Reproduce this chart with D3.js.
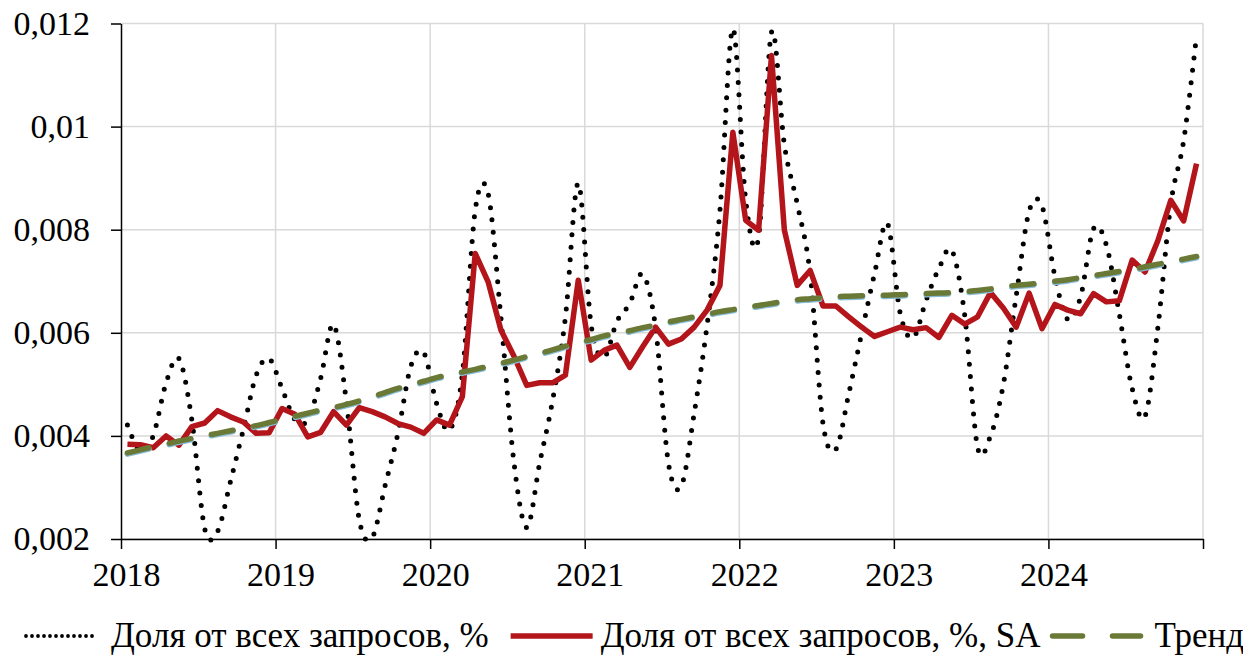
<!DOCTYPE html>
<html>
<head>
<meta charset="utf-8">
<script src="https://cdn.jsdelivr.net/npm/d3@7/dist/d3.min.js"></script>
<style>
  body { margin: 0; background: #fff; }
  svg text { font-family: "Liberation Serif", Tinos, "Times New Roman", Times, "DejaVu Serif", "Noto Serif", serif; fill: #000; }
</style>
</head>
<body>
<svg id="chart" width="1243" height="657"></svg>
<script>
// monthly data Jan 2018 .. Dec 2024
var years = [2018, 2019, 2020, 2021, 2022, 2023, 2024];
var months = [];
years.forEach(function (y) { for (var m = 1; m <= 12; m++) months.push(y + "-" + m); });

var share = [
  0.00421, 0.00370, 0.00400, 0.00503, 0.00550, 0.00431, 0.00220, 0.00215, 0.00312, 0.00413, 0.00518, 0.00550,
  0.00492, 0.00432, 0.00431, 0.00512, 0.00616, 0.00466, 0.00237, 0.00203, 0.00303, 0.00405, 0.00535, 0.00562,
  0.00463, 0.00411, 0.00520, 0.00838, 0.00870, 0.00628, 0.00350, 0.00222, 0.00347, 0.00468, 0.00630, 0.00890,
  0.00615, 0.00553, 0.00622, 0.00657, 0.00714, 0.00610, 0.00347, 0.00303, 0.00444, 0.00615, 0.00838, 0.01190,
  0.00857, 0.00786, 0.01183, 0.00965, 0.00850, 0.00715, 0.00424, 0.00374, 0.00482, 0.00599, 0.00715, 0.00812,
  0.00637, 0.00590, 0.00663, 0.00725, 0.00760, 0.00634, 0.00378, 0.00400, 0.00500, 0.00672, 0.00836, 0.00846,
  0.00710, 0.00626, 0.00670, 0.00802, 0.00770, 0.00637, 0.00492, 0.00438, 0.00611, 0.00850, 0.00973, 0.01177
];
var shareSA = [
  0.00384, 0.00383, 0.00377, 0.00400, 0.00382, 0.00418, 0.00425, 0.00449, 0.00437, 0.00427, 0.00405, 0.00406,
  0.00453, 0.00442, 0.00398, 0.00407, 0.00447, 0.00421, 0.00455, 0.00447, 0.00437, 0.00424, 0.00417, 0.00405,
  0.00431, 0.00421, 0.00476, 0.00754, 0.00699, 0.00605, 0.00555, 0.00498, 0.00503, 0.00503, 0.00518, 0.00702,
  0.00547, 0.00566, 0.00576, 0.00533, 0.00573, 0.00611, 0.00578, 0.00588, 0.00611, 0.00644, 0.00692, 0.00989,
  0.00818, 0.00799, 0.01138, 0.00799, 0.00692, 0.00721, 0.00652, 0.00652, 0.00631, 0.00611, 0.00593, 0.00602,
  0.00611, 0.00606, 0.00610, 0.00591, 0.00634, 0.00617, 0.00631, 0.00678, 0.00648, 0.00611, 0.00677, 0.00608,
  0.00655, 0.00644, 0.00637, 0.00676, 0.00660, 0.00662, 0.00741, 0.00718, 0.00779, 0.00857, 0.00817, 0.00928
];
var trend = [
  0.00367, 0.00373, 0.00379, 0.00384, 0.00390, 0.00395, 0.00400, 0.00405, 0.00410, 0.00415, 0.00420, 0.00426,
  0.00432, 0.00438, 0.00444, 0.00450, 0.00455, 0.00461, 0.00468, 0.00476, 0.00484, 0.00492, 0.00499, 0.00506,
  0.00513, 0.00519, 0.00524, 0.00529, 0.00535, 0.00541, 0.00547, 0.00554, 0.00560, 0.00567, 0.00574, 0.00581,
  0.00587, 0.00594, 0.00599, 0.00604, 0.00610, 0.00615, 0.00621, 0.00626, 0.00631, 0.00636, 0.00641, 0.00645,
  0.00649, 0.00653, 0.00657, 0.00661, 0.00664, 0.00666, 0.00668, 0.00670, 0.00671, 0.00672, 0.00673, 0.00673,
  0.00674, 0.00675, 0.00676, 0.00677, 0.00678, 0.00680, 0.00682, 0.00685, 0.00689, 0.00692, 0.00694, 0.00697,
  0.00700, 0.00703, 0.00707, 0.00711, 0.00715, 0.00719, 0.00723, 0.00728, 0.00733, 0.00738, 0.00743, 0.00748
];
var yTicks = [0.002, 0.004, 0.006, 0.008, 0.01, 0.012];
var yLabels = ["0,002", "0,004", "0,006", "0,008", "0,01", "0,012"];
var legendNames = ["Доля от всех запросов, %", "Доля от всех запросов, %, SA", "Тренд"];

var svg = d3.select("#chart");
var pLeft = 121, pRight = 1203, pTop = 23.5, pBottom = 539;
var fs = 34;

var x = d3.scaleLinear().domain([0, months.length]).range([pLeft, pRight]);
var y = d3.scaleLinear().domain([0.002, 0.012]).range([pBottom, pTop]);
var yearTicks = d3.range(0, months.length + 1, 12);

// grid
svg.append("g").selectAll("line").data(yTicks).enter().append("line")
  .attr("x1", pLeft).attr("x2", pRight)
  .attr("y1", function (d) { return y(d); }).attr("y2", function (d) { return y(d); })
  .attr("stroke", "#d9d9d9").attr("stroke-width", 1.5);
svg.append("g").selectAll("line").data(yearTicks.slice(1)).enter().append("line")
  .attr("x1", function (d) { return x(d); }).attr("x2", function (d) { return x(d); })
  .attr("y1", pTop).attr("y2", pBottom)
  .attr("stroke", "#d9d9d9").attr("stroke-width", 1.5);

// series
var px = function (d, i) { return x(i + 0.5); };
var smooth = d3.line().x(px).y(function (d) { return y(d); }).curve(d3.curveCardinal);
var straight = d3.line().x(px).y(function (d) { return y(d); });

svg.append("path").datum(share).attr("d", smooth)
  .attr("fill", "none").attr("stroke", "#000").attr("stroke-width", 5)
  .attr("stroke-linecap", "round").attr("stroke-dasharray", "0 12.4");

svg.append("path").datum(shareSA).attr("d", straight)
  .attr("fill", "none").attr("stroke", "#b3151a").attr("stroke-width", 5.5)
  .attr("stroke-linejoin", "round");

svg.append("path").datum(trend).attr("d", smooth)
  .attr("fill", "none").attr("stroke", "#86bcd8").attr("stroke-width", 6)
  .attr("stroke-dasharray", "22 21").attr("stroke-linecap", "round")
  .attr("transform", "translate(0,1)");
svg.append("path").datum(trend).attr("d", smooth)
  .attr("fill", "none").attr("stroke", "#6a7a36").attr("stroke-width", 5.5)
  .attr("stroke-dasharray", "22 21").attr("stroke-linecap", "round");

// axes
var yAxis = d3.axisLeft(y).tickValues(yTicks)
  .tickFormat(function (d, i) { return yLabels[i]; })
  .tickSize(10).tickSizeOuter(0).tickPadding(21);
var gy = svg.append("g").attr("transform", "translate(" + pLeft + ",0)").call(yAxis);

var xAxis = d3.axisBottom(x).tickValues(yearTicks)
  .tickFormat(function (d, i) { return years[i] !== undefined ? years[i] : ""; })
  .tickSize(10).tickSizeOuter(0).tickPadding(13);
var gx = svg.append("g").attr("transform", "translate(0," + pBottom + ")").call(xAxis);

[gx, gy].forEach(function (g) {
  g.attr("font-family", null);
  g.select(".domain").attr("stroke", "#000").attr("stroke-width", 1.5);
  g.selectAll(".tick line").attr("stroke", "#000").attr("stroke-width", 1.5);
  g.selectAll("text").attr("font-size", fs);
});
gx.selectAll("text").attr("dx", 5);

// legend
var ly = 636;
var lg = svg.append("g").attr("font-size", 35);
var cx = 24;
lg.append("line").attr("x1", cx + 2).attr("x2", cx + 72).attr("y1", ly).attr("y2", ly)
  .attr("stroke", "#000").attr("stroke-width", 3.8).attr("stroke-linecap", "round")
  .attr("stroke-dasharray", "0 6");
cx += 87;
var t1 = lg.append("text").attr("x", cx).attr("y", ly + 11).text(legendNames[0]);
cx += t1.node().getComputedTextLength() + 22;
lg.append("line").attr("x1", cx).attr("x2", cx + 82).attr("y1", ly).attr("y2", ly)
  .attr("stroke", "#b3151a").attr("stroke-width", 5.5);
cx += 90;
var t2 = lg.append("text").attr("x", cx).attr("y", ly + 11).text(legendNames[1]);
cx += t2.node().getComputedTextLength() + 12;
lg.append("line").attr("x1", cx).attr("x2", cx + 88).attr("y1", ly).attr("y2", ly)
  .attr("stroke", "#6a7a36").attr("stroke-width", 5.5).attr("stroke-linecap", "round")
  .attr("stroke-dasharray", "30 30");
cx += 102;
lg.append("text").attr("x", cx).attr("y", ly + 11).text(legendNames[2]);
</script>
</body>
</html>
